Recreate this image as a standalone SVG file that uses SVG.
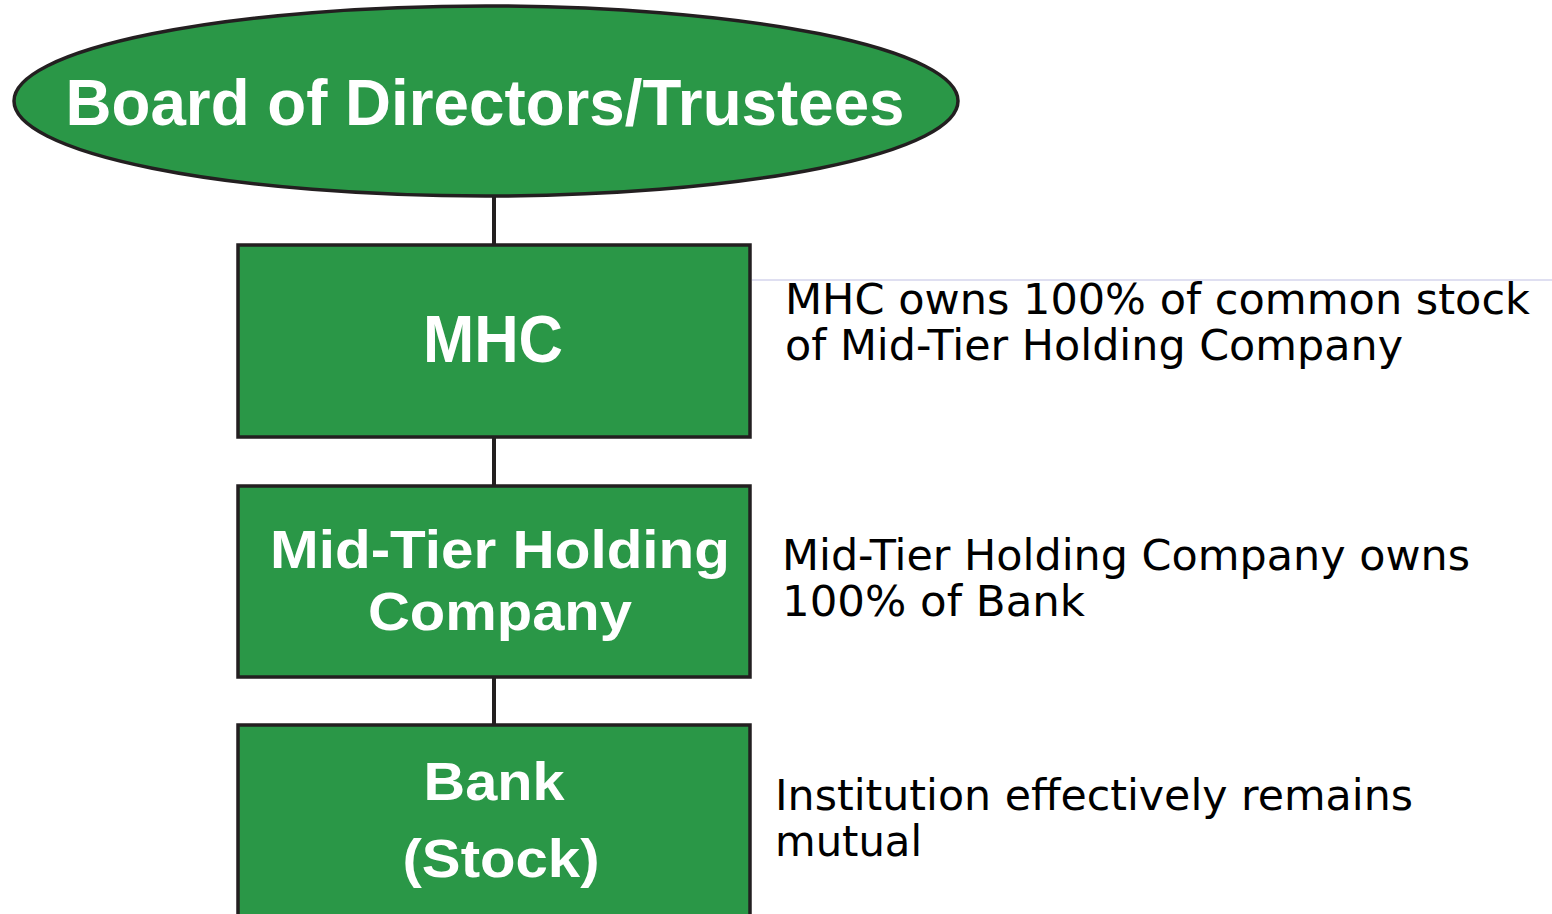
<svg xmlns="http://www.w3.org/2000/svg" width="1552" height="914" viewBox="0 0 1552 914">
<style>
.node{fill:#2a9747;stroke:#231f20;stroke-width:3.5}
.nt{font-family:"Liberation Sans",Arial,sans-serif;font-weight:bold;fill:#ffffff;text-anchor:middle}
.note{font-family:"DejaVu Sans",Verdana,sans-serif;fill:#000000}
.conn{stroke:#231f20;stroke-width:4;fill:none}
</style>
<rect width="1552" height="914" fill="#ffffff"/>
<line x1="752" y1="280" x2="1552" y2="280" stroke="#d4d4ec" stroke-width="1.5"/>
<g id="connectors">
<line class="conn" x1="494" y1="196" x2="494" y2="245"/>
<line class="conn" x1="494" y1="437" x2="494" y2="486"/>
<line class="conn" x1="494" y1="677" x2="494" y2="725"/>
</g>
<g id="board">
<ellipse class="node" cx="486" cy="101" rx="472" ry="95"/>
<text class="nt" x="485" y="125" font-size="64" textLength="839" lengthAdjust="spacingAndGlyphs">Board of Directors/Trustees</text>
</g>
<g id="mhc">
<rect class="node" x="238" y="245" width="512" height="192"/>
<text class="nt" x="493" y="362" font-size="66" textLength="140" lengthAdjust="spacingAndGlyphs">MHC</text>
</g>
<g id="midtier">
<rect class="node" x="238" y="486" width="512" height="191"/>
<text class="nt" x="500" y="568" font-size="54" textLength="460" lengthAdjust="spacingAndGlyphs">Mid-Tier Holding</text>
<text class="nt" x="500" y="630" font-size="54" textLength="264" lengthAdjust="spacingAndGlyphs">Company</text>
</g>
<g id="bank">
<rect class="node" x="238" y="725" width="512" height="200"/>
<text class="nt" x="494" y="800" font-size="54" textLength="141" lengthAdjust="spacingAndGlyphs">Bank</text>
<text class="nt" x="501" y="877" font-size="54" textLength="197" lengthAdjust="spacingAndGlyphs">(Stock)</text>
</g>
<g id="notes">
<text class="note" x="785" y="314" font-size="42" textLength="745" lengthAdjust="spacingAndGlyphs">MHC owns 100% of common stock</text>
<text class="note" x="785" y="360" font-size="42" textLength="618" lengthAdjust="spacingAndGlyphs">of Mid-Tier Holding Company</text>
<text class="note" x="782" y="570" font-size="42" textLength="688" lengthAdjust="spacingAndGlyphs">Mid-Tier Holding Company owns</text>
<text class="note" x="782" y="616" font-size="42" textLength="303" lengthAdjust="spacingAndGlyphs">100% of Bank</text>
<text class="note" x="775" y="810" font-size="42" textLength="638" lengthAdjust="spacingAndGlyphs">Institution effectively remains</text>
<text class="note" x="775" y="856" font-size="42" textLength="147" lengthAdjust="spacingAndGlyphs">mutual</text>
</g>
</svg>
